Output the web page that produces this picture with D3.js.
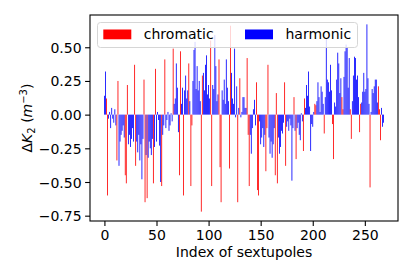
<!DOCTYPE html>
<html><head><meta charset="utf-8">
<script src="https://cdn.jsdelivr.net/npm/d3@7"></script>
<style>body{margin:0;background:#fff} svg{display:block} text{font-family:"DejaVu Sans",sans-serif}</style>
</head><body>
<svg id="chart" width="415" height="277"></svg>
<script>
// family of each sextupole: c = chromatic, h = harmonic
const family = (
  "hhcchhhhhh" + "hhcchhhhhh" + "ccchhhhhhc" + "chhhhhhhcc" +
  "hchhhhhchc" + "hhhhhchhch" + "hhhhhhchhh" + "hhcchhchhh" +
  "hchcchhhhh" + "hhhcchhhhh" + "hhcchhhhhh" + "cccHhhhhhh".toLowerCase() +
  "cchhhhhhch" + "chhhhhhccc" + "hhhhhhccch" + "hhhhhccchh" +
  "hhhhccchhh" + "hhhccHhhhh".toLowerCase() + "hhchchhhhh" + "hccHhhhhhh".toLowerCase() +
  "hhcchhhhhh" + "hchhhhhhhc" + "chhhhhhhcc" + "hhhhhhcchh" +
  "hhhhhcchhh" + "hhhhhchhhh" + "hhhcccHhh".toLowerCase()
).split("");
const deltaK = [
  0.14, 0.32, 0.12, -0.60, -0.03, 0.02, -0.10, 0.05, -0.03, -0.06,
  0.04, -0.08, -0.34, 0.25, -0.38, -0.20, -0.15, -0.12, -0.08, -0.17,
  -0.45, -0.51, 0.22, -0.22, -0.15, -0.24, -0.18, -0.10, -0.20, 0.37,
  -0.38, -0.20, -0.28, -0.15, -0.34, -0.22, -0.48, -0.18, 0.26, -0.65,
  -0.30, -0.62, -0.32, -0.20, -0.25, -0.30, -0.18, -0.51, -0.24, 0.34,
  -0.20, 0.02, -0.04, -0.23, -0.50, -0.53, -0.15, -0.08, 0.41, -0.10,
  -0.04, 0.02, -0.12, -0.08, 0.01, -0.05, 0.49, 0.08, 0.12, 0.38,
  0.20, -0.13, -0.45, 0.47, 0.08, 0.20, -0.60, 0.18, 0.29, 0.12,
  0.18, 0.38, 0.10, -0.53, -0.08, 0.25, 0.48, 0.54, 0.19, 0.36,
  0.18, 0.25, 0.10, -0.72, 0.29, 0.31, 0.18, 0.37, 0.44, 0.15,
  0.22, 0.12, 0.55, -0.53, 0.22, 0.19, 0.59, 0.36, 0.10, 0.15,
  0.41, -0.39, -0.65, 0.18, 0.11, 0.26, 0.08, 0.41, 0.20, 0.10,
  -0.40, 0.66, 0.31, 0.12, 0.08, 0.49, -0.02, 0.21, -0.65, 0.05,
  0.27, -0.02, 0.02, 0.13, 0.13, 0.05, 0.05, 0.42, -0.15, -0.53,
  -0.15, -0.29, -0.10, 0.04, 0.11, -0.08, 0.24, -0.56, -0.60, -0.05,
  -0.22, -0.17, -0.10, -0.24, -0.15, -0.42, -0.10, 0.37, -0.17, -0.29,
  -0.20, -0.32, -0.22, -0.10, -0.45, 0.16, -0.51, -0.17, -0.29, -0.24,
  -0.12, -0.14, -0.06, 0.24, -0.38, -0.09, -0.05, -0.12, -0.03, -0.08,
  -0.49, -0.10, 0.13, -0.12, -0.33, -0.10, -0.06, -0.15, -0.19, 0.01,
  -0.05, -0.27, 0.12, 0.05, 0.22, 0.14, 0.32, 0.06, -0.27, -0.07,
  -0.09, 0.02, 0.08, 0.07, 0.10, 0.24, 0.13, 0.02, 0.21, 0.17,
  0.08, -0.14, 0.13, 0.57, 0.26, 0.24, 0.17, 0.37, 0.18, -0.07,
  -0.33, 0.09, 0.06, 0.26, 0.46, 0.38, 0.16, 0.27, 0.13, 0.04,
  0.28, 0.47, 0.52, 0.50, 0.20, 0.42, 0.04, -0.18, 0.10, 0.29,
  0.43, 0.42, 0.26, 0.29, 0.13, -0.13, 0.08, 0.09, 0.17, 0.31,
  0.17, 0.19, 0.67, 0.27, 0.08, -0.54, 0.02, 0.19, 0.16, 0.21,
  0.26, 0.26, 0.09, 0.21, 0.04, -0.19, 0.05, -0.09, -0.06
];
const xTicks = [0, 50, 100, 150, 200, 250];
const yTicks = [-0.75, -0.5, -0.25, 0, 0.25, 0.5];
const seriesNames = ["chromatic", "harmonic"];
const seriesKeys = ["c", "h"];
const seriesColors = ["#ff0000", "#0000ff"];

const svg = d3.select("#chart");
const m = {left: 90, right: 398, top: 15, bottom: 221};
const n = deltaK.length;
const bw = 0.8;
const lo = -bw / 2, hi = n - 1 + bw / 2;
const xpad = 0.05 * (hi - lo);
const x = d3.scaleLinear().domain([lo - xpad, hi + xpad]).range([m.left, m.right]);
const ymin = Math.min(0, d3.min(deltaK)), ymax = Math.max(0, d3.max(deltaK));
const ypad = 0.05 * (ymax - ymin);
const y = d3.scaleLinear().domain([ymin - ypad, ymax + ypad]).range([m.bottom, m.top]);
const color = d3.scaleOrdinal().domain(seriesKeys).range(seriesColors);

svg.append("defs").append("clipPath").attr("id", "clip")
  .append("rect").attr("x", m.left).attr("y", m.top)
  .attr("width", m.right - m.left).attr("height", m.bottom - m.top);

const bars = deltaK.map((v, i) => ({i, v, f: family[i]}));
svg.append("g").attr("clip-path", "url(#clip)")
  .selectAll("rect").data(bars).join("rect")
  .attr("x", d => x(d.i - bw / 2))
  .attr("width", d => x(d.i + bw / 2) - x(d.i - bw / 2))
  .attr("y", d => y(Math.max(0, d.v)))
  .attr("height", d => Math.abs(y(d.v) - y(0)))
  .attr("fill", d => color(d.f));

// axes
const xAxis = d3.axisBottom(x).tickValues(xTicks).tickSize(4.9).tickPadding(3.5).tickFormat(d3.format("d"));
const yAxis = d3.axisLeft(y).tickValues(yTicks).tickSize(4.9).tickPadding(3.5)
  .tickFormat(d => d3.format(".2f")(d).replace("-", "\u2212"));
const gx = svg.append("g").attr("transform", `translate(0,${m.bottom})`).call(xAxis);
const gy = svg.append("g").attr("transform", `translate(${m.left},0)`).call(yAxis);
[gx, gy].forEach(g => {
  g.select(".domain").remove();
  g.selectAll(".tick line").attr("stroke", "#000").attr("stroke-width", 1.1);
  g.selectAll(".tick text").attr("fill", "#000").style("font-size", "14px");
});
gy.selectAll(".tick text").attr("dy", "0.36em");
gx.selectAll(".tick text").attr("dy", "0.78em");

svg.append("rect").attr("x", m.left).attr("y", m.top)
  .attr("width", m.right - m.left).attr("height", m.bottom - m.top)
  .attr("fill", "none").attr("stroke", "#000").attr("stroke-width", 1.1);

// labels
svg.append("text").attr("x", (m.left + m.right) / 2).attr("y", 257)
  .attr("text-anchor", "middle").style("font-size", "14px").text("Index of sextupoles");

const yl = svg.append("text").attr("transform", `translate(32,${(m.top + m.bottom) / 2}) rotate(-90)`)
  .attr("text-anchor", "middle").style("font-size", "14px");
yl.append("tspan").text("\u0394");
yl.append("tspan").style("font-style", "italic").text("K");
yl.append("tspan").attr("dy", 3).style("font-size", "10px").text("2");
yl.append("tspan").attr("dy", -3).text(" (");
yl.append("tspan").style("font-style", "italic").text("m");
yl.append("tspan").attr("dy", -5).style("font-size", "10px").text("\u22123");
yl.append("tspan").attr("dy", 5).text(")");

// legend
const lg = svg.append("g");
lg.append("rect").attr("x", 97.5).attr("y", 22.5).attr("width", 260).attr("height", 25)
  .attr("rx", 3).attr("fill", "#fff").attr("fill-opacity", 0.8)
  .attr("stroke", "#d6d6d6").attr("stroke-width", 1);
const legendX = [103.3, 245];
seriesNames.forEach((name, k) => {
  lg.append("rect").attr("x", legendX[k]).attr("y", 29.5).attr("width", 28).attr("height", 9.8)
    .attr("fill", seriesColors[k]);
  lg.append("text").attr("x", legendX[k] + 40.5).attr("y", 39.3)
    .style("font-size", "14px").text(name);
});
</script>
</body></html>
